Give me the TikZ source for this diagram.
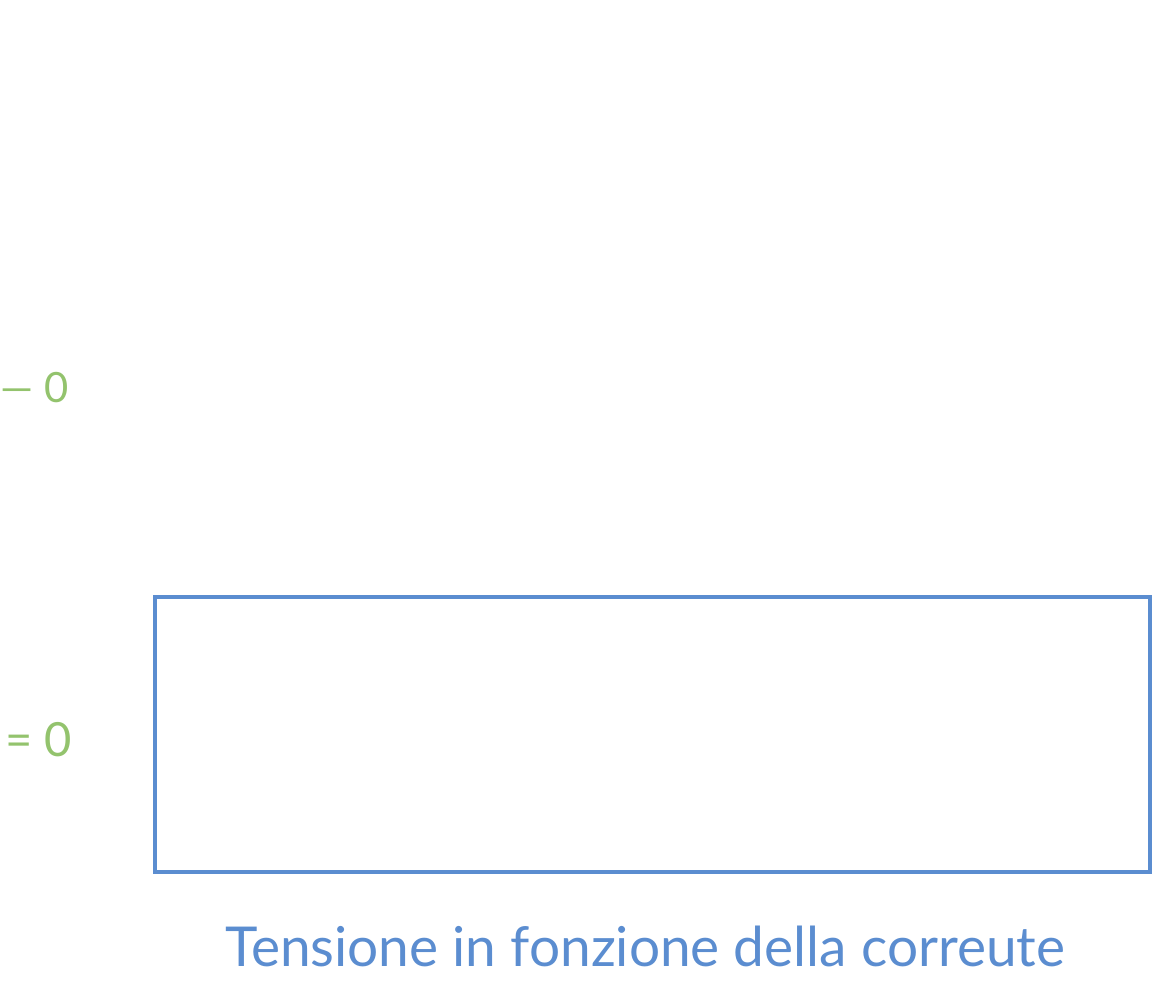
\documentclass[tikz,border=0pt]{standalone}
\usepackage{fontspec}
\setmainfont{Lato}
\definecolor{hblue}{HTML}{5B8DD0}
\definecolor{hgreen}{HTML}{93C36D}
\begin{document}
\begin{tikzpicture}[x=0.75pt,y=-0.75pt,
  frame/.style={draw=hblue,line width=3pt},
  glabel/.style={text=hgreen,font=\fontsize{30}{34}\selectfont,inner sep=0pt,anchor=west},
  caption/.style={text=hblue,font=\fontsize{38}{44}\selectfont,inner sep=0pt,anchor=base west}]
\useasboundingbox (0,0) rectangle (1172,1000);
\node[frame,minimum width=995*0.75pt,minimum height=275*0.75pt,inner sep=0pt,anchor=north west] (box) at (153,595) {};
\node[glabel] (g1) at (0,388) {\resizebox{51pt}{!}{—\ 0}};
\node[glabel] (g2) at (5,740) {\resizebox{50pt}{!}{=\ 0}};
\node[caption] (cap) at (225,966) {\resizebox{630pt}{!}{Tensione in fonzione della correute}};
\end{tikzpicture}
\end{document}
